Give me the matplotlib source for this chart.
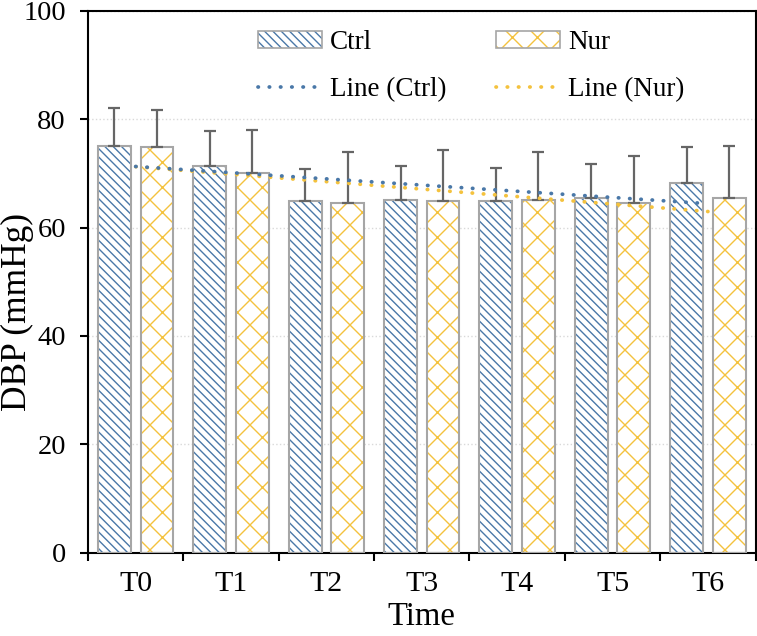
import numpy as np
import matplotlib
matplotlib.use('Agg')
import matplotlib.pyplot as plt
from matplotlib.patches import Patch
from matplotlib.lines import Line2D
from matplotlib.backend_bases import GraphicsContextBase

'''Data read off the reference'''

times = ['T0', 'T1', 'T2', 'T3', 'T4', 'T5', 'T6']
#Mean DBP (mmHg)
ctrl = [75.0, 71.3, 64.9, 65.1, 64.8, 65.4, 68.3]
nur = [74.9, 70.1, 64.5, 64.9, 65.1, 64.6, 65.5]
#Upper error (SD)
ctrl_sd = [7.1, 6.5, 5.9, 6.3, 6.2, 6.4, 6.5]
nur_sd = [6.8, 7.8, 9.5, 9.4, 8.8, 8.6, 9.5]

#-----------------------#
#    Style              #
#-----------------------#

blue = '#4A78A8'
yellow = '#F4C23E'
edge = '#A6A6A6'
err = '#666666'

plt.rcParams['font.family'] = ['Liberation Serif', 'DejaVu Serif']
plt.rcParams['hatch.linewidth'] = 1.0

#Finer hatch than the default density
_hatch_path = GraphicsContextBase.get_hatch_path
def _fine_hatch(self, density=6.0):
    return _hatch_path(self, density*1.43)
GraphicsContextBase.get_hatch_path = _fine_hatch

fig = plt.figure(figsize=(7.57, 6.36), dpi=100)
ax = fig.add_axes([88/757, 1-552.7/636, (755.6-88)/757, (552.7-10.7)/636])

x = np.arange(len(times))
w = 0.344
off = 0.223

#Hatched fill, then gray outline on top
ax.bar(x-off, ctrl, w, color='white', edgecolor=blue, linewidth=0, hatch='\\\\\\', zorder=2)
ax.bar(x-off, ctrl, w, fill=False, edgecolor=edge, linewidth=1.5, zorder=3)
ax.bar(x+off, nur, w, color='white', edgecolor=yellow, linewidth=0, hatch='x', zorder=2)
ax.bar(x+off, nur, w, fill=False, edgecolor=edge, linewidth=1.5, zorder=3)

#Upper error bars only
ax.errorbar(x-off, ctrl, yerr=[np.zeros(len(x)), ctrl_sd], fmt='none', ecolor=err,
            elinewidth=1.6, capsize=4.5, capthick=1.6, zorder=4)
ax.errorbar(x+off, nur, yerr=[np.zeros(len(x)), nur_sd], fmt='none', ecolor=err,
            elinewidth=1.6, capsize=4.5, capthick=1.6, zorder=4)

#Linear trend lines
dots = (0, (0.1, 2.9))
lw_t = 2.7
pc = np.polyfit(x, ctrl, 1)
pn = np.polyfit(x, nur, 1)
ax.plot(x, np.polyval(pn, x), color=yellow, lw=lw_t, ls=dots, dash_capstyle='round', zorder=5)
ax.plot(x, np.polyval(pc, x), color=blue, lw=lw_t, ls=dots, dash_capstyle='round', zorder=5)

#Axes
ax.set_xlim(-0.5, len(times)-0.5)
ax.set_ylim(0, 100)
ax.set_yticks(np.arange(0, 101, 20))
ax.set_xticks(np.arange(-0.5, len(times), 1))
ax.set_xticklabels([])
ax.set_xticks(x, minor=True)
ax.set_xticklabels(times, minor=True)
ax.tick_params(axis='x', which='major', direction='out', length=6, width=1.5)
ax.tick_params(axis='x', which='minor', length=0, pad=13, labelsize=21.5)
ax.tick_params(axis='y', direction='out', length=6, width=1.5, pad=10, labelsize=20.5)
for s in ax.spines.values():
    s.set_linewidth(1.5)
ax.grid(axis='y', color='#D9D9D9', ls=':', lw=1.0, zorder=0)
ax.set_axisbelow(True)

ax.set_xlabel('Time', fontsize=23.5)
ax.xaxis.set_label_coords(0.5, -(601.5-552.7)/542)
ax.set_ylabel('DBP (mmHg)', fontsize=25.5)
ax.yaxis.set_label_coords(-0.081, 0.444)

#Legend: hatched patch with a gray outline laid over it
def hatch_key(c, h):
    return (Patch(facecolor='white', edgecolor=c, hatch=h, lw=0),
            Patch(fill=False, edgecolor=edge, lw=1.2))

handles = [hatch_key(blue, '\\\\\\'),
           Line2D([], [], color=blue, lw=lw_t, ls=dots, dash_capstyle='round'),
           hatch_key(yellow, 'x'),
           Line2D([], [], color=yellow, lw=lw_t, ls=dots, dash_capstyle='round')]
labels = ['Ctrl', 'Line (Ctrl)', 'Nur', 'Line (Nur)']
fig.legend(handles, labels, ncol=2, loc='upper left', bbox_to_anchor=(258/757, 1-30/636),
           frameon=False, fontsize=19.5, borderpad=0, borderaxespad=0,
           handlelength=2.35, handleheight=0.6, handletextpad=0.3,
           columnspacing=1.85, labelspacing=0.8)

fig.savefig('out.png', dpi=100)
